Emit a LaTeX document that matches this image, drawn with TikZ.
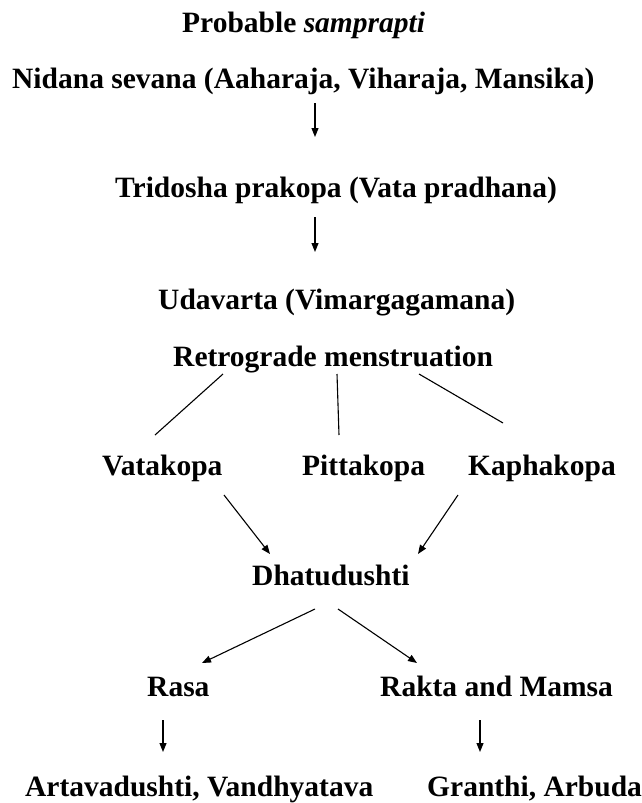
\documentclass[tikz,border=0pt]{standalone}
\usepackage{fontspec}
\setmainfont{Liberation Serif}
\usetikzlibrary{arrows.meta}
\begin{document}
\begin{tikzpicture}[x=1pt,y=-1pt,
  lbl/.style={anchor=base west,inner sep=0pt,font=\fontsize{29.5}{35}\selectfont\bfseries},
  conn/.style={line width=1.1pt,black},
  arr/.style={conn,-{Triangle[length=9pt,width=7pt]}}]
\useasboundingbox[fill=white] (0,0) rectangle (641,803);
\node[lbl] (title) at (182,32) {Probable \textit{samprapti}};
\node[lbl] (nid) at (12,88) {Nidana sevana (Aaharaja, Viharaja, Mansika)};
\node[lbl] (tri) at (115,197) {Tridosha prakopa (Vata pradhana)};
\node[lbl] (uda) at (158,309) {Udavarta (Vimargagamana)};
\node[lbl] (ret) at (173,366) {Retrograde menstruation};
\node[lbl] (vata) at (102,475) {Vatakopa};
\node[lbl] (pitta) at (302,475) {Pittakopa};
\node[lbl] (kapha) at (468,475) {Kaphakopa};
\node[lbl] (dhatu) at (252,585) {Dhatudushti};
\node[lbl] (rasa) at (147,696) {Rasa};
\node[lbl] (rakta) at (380,696) {Rakta and Mamsa};
\node[lbl] (arta) at (25,796) {Artavadushti, Vandhyatava};
\node[lbl] (gran) at (427,796) {Granthi, Arbuda};
\draw[arr] ([shift={(303,15)}]nid.base west) -- ([shift={(200,-60)}]tri.base west);
\draw[arr] ([shift={(200,20)}]tri.base west) -- ([shift={(157,-57)}]uda.base west);
\draw[conn] ([shift={(50,8)}]ret.base west) -- ([shift={(53,-40)}]vata.base west);
\draw[conn] ([shift={(164,8)}]ret.base west) -- ([shift={(37,-40)}]pitta.base west);
\draw[conn] ([shift={(246,8)}]ret.base west) -- ([shift={(35,-52)}]kapha.base west);
\draw[arr] ([shift={(122,20)}]vata.base west) -- ([shift={(18,-31)}]dhatu.base west);
\draw[arr] ([shift={(-10,20)}]kapha.base west) -- ([shift={(166,-31)}]dhatu.base west);
\draw[arr] ([shift={(63,24)}]dhatu.base west) -- ([shift={(55,-33)}]rasa.base west);
\draw[arr] ([shift={(86,24)}]dhatu.base west) -- ([shift={(37,-33)}]rakta.base west);
\draw[arr] ([shift={(16,24)}]rasa.base west) -- ([shift={(138,-44)}]arta.base west);
\draw[arr] ([shift={(100,24)}]rakta.base west) -- ([shift={(53,-44)}]gran.base west);
\end{tikzpicture}
\end{document}
